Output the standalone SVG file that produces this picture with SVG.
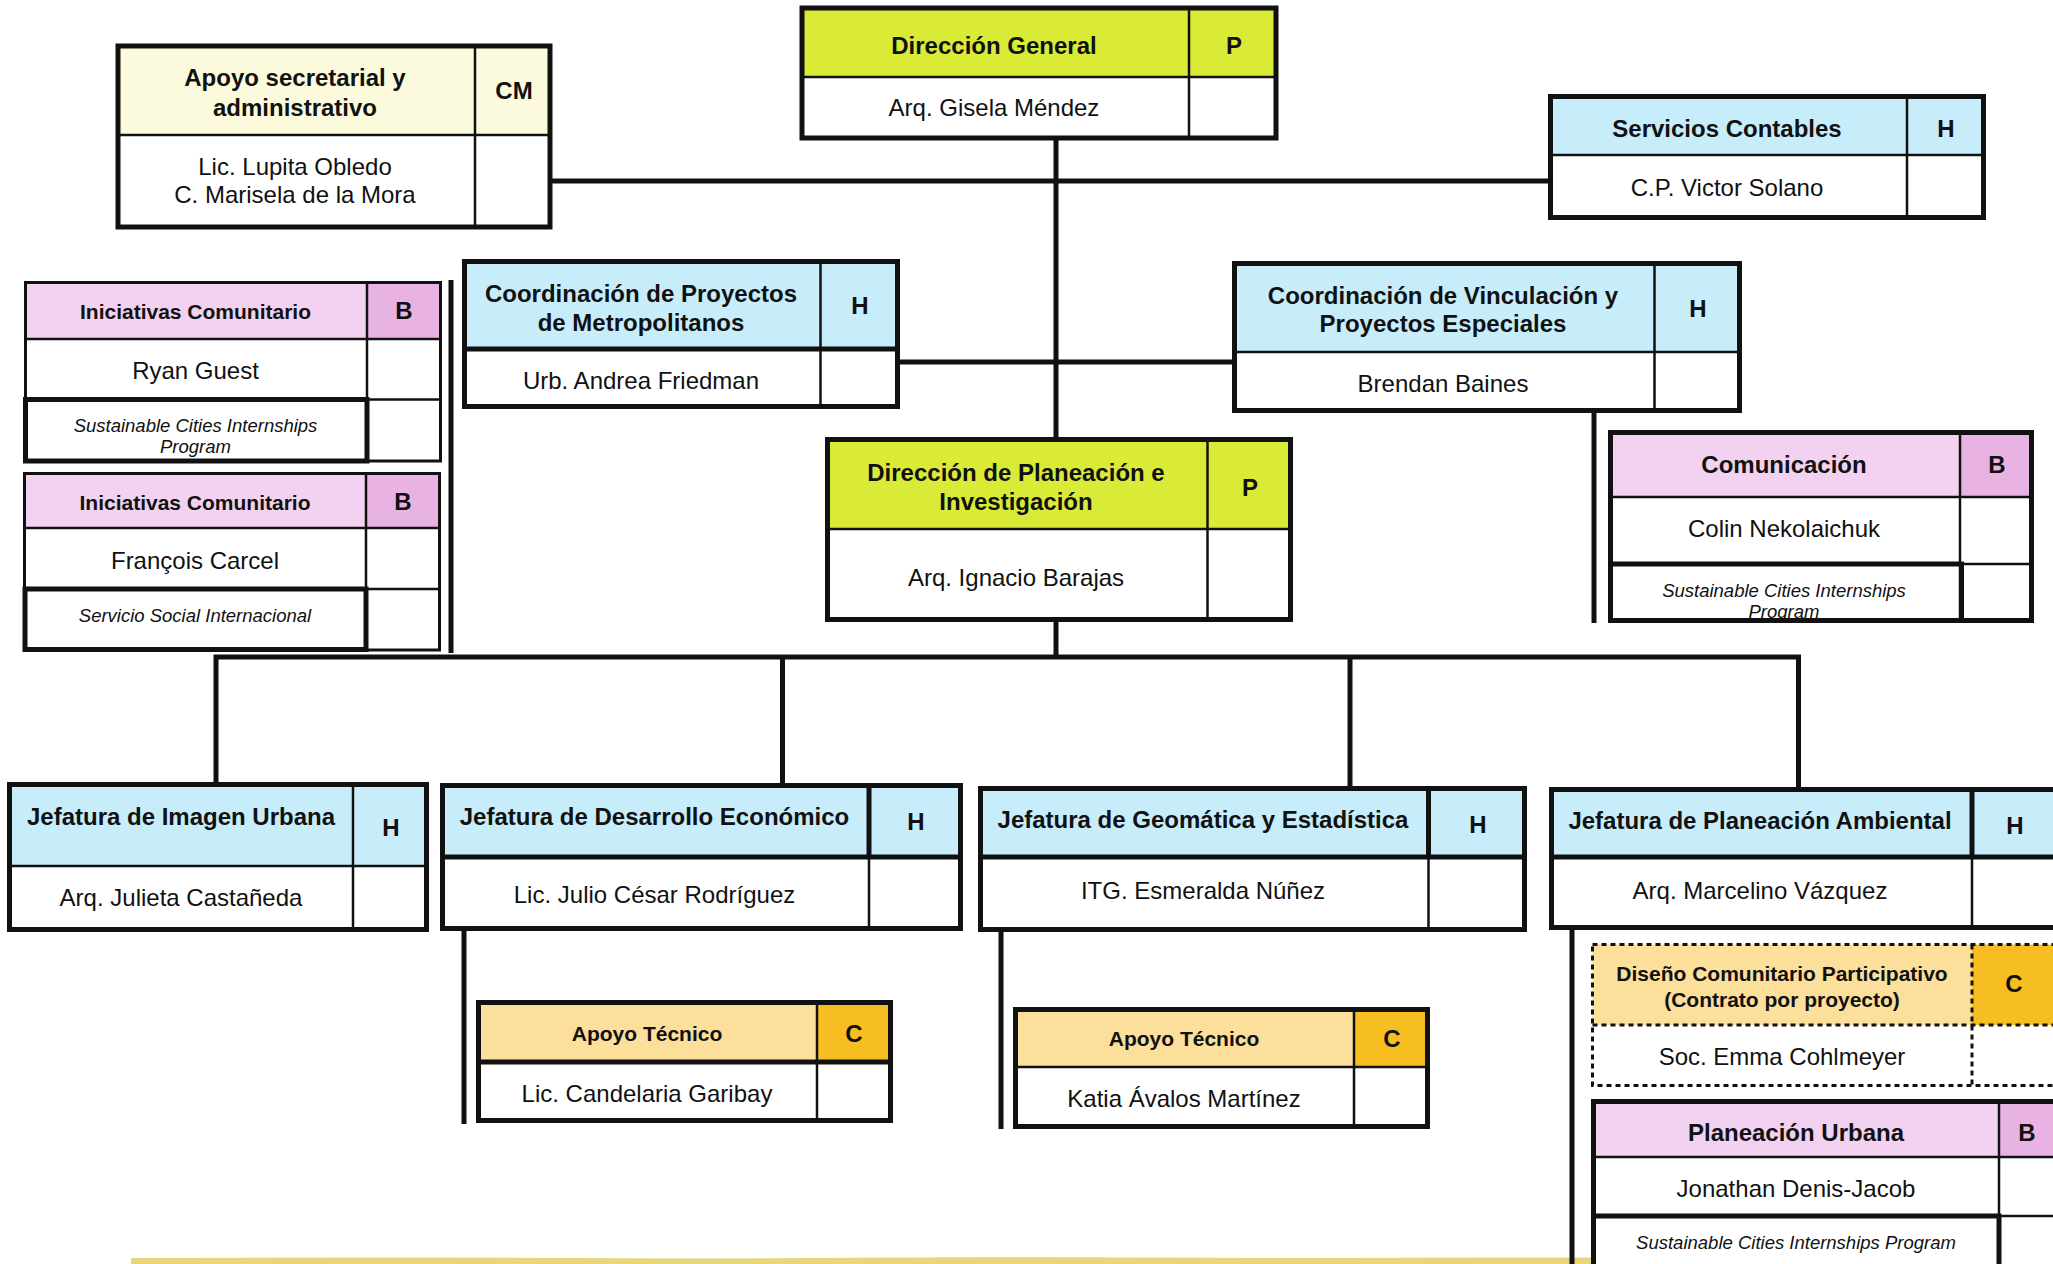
<svg xmlns="http://www.w3.org/2000/svg" width="2053" height="1264" viewBox="0 0 2053 1264">
<style>
.ob{fill:none;stroke:#111;stroke-width:5}
.obt{fill:none;stroke:#111;stroke-width:3}
.in{stroke:#111;stroke-width:2.5;fill:none}
.ink{stroke:#111;stroke-width:5;fill:none}
.dash{fill:none;stroke:#111;stroke-width:3;stroke-dasharray:5 4}
.cn{stroke:#111;stroke-width:5;fill:none}
.hb{font-family:"Liberation Sans",Arial,Helvetica,sans-serif;font-weight:bold;font-size:24px;text-anchor:middle;fill:#111}
.sb{font-family:"Liberation Sans",Arial,Helvetica,sans-serif;font-weight:bold;font-size:21px;text-anchor:middle;fill:#111}
.nm{font-family:"Liberation Sans",Arial,Helvetica,sans-serif;font-size:24px;text-anchor:middle;fill:#111}
.it{font-family:"Liberation Sans",Arial,Helvetica,sans-serif;font-style:italic;font-size:18.5px;text-anchor:middle;fill:#111}
.green{fill:#D9EB36}
.blue{fill:#C7EDFB}
.pink{fill:#F2D2F0}
.pinkd{fill:#E8B3E3}
.ora{fill:#FBDF9B}
.orad{fill:#F6BE22}
.cream{fill:#FCFADC}
.white{fill:#fff}
</style>
<rect x="0" y="0" width="2053" height="1264" fill="#fff"/>
<path d="M131 1258 L400 1257.5 L700 1258.5 L1000 1257 L1300 1258 L1595 1257.5 L1595 1264 L131 1264 Z" fill="#E8D67C"/>

<g id="connectors">
<line class="cn" x1="1056" y1="140" x2="1056" y2="438"/>
<line class="cn" x1="552" y1="181" x2="1549" y2="181"/>
<line class="cn" x1="899" y1="362" x2="1233" y2="362"/>
<line class="cn" x1="451" y1="280" x2="451" y2="653"/>
<line class="cn" x1="1594" y1="412" x2="1594" y2="623"/>
<line class="cn" x1="1056" y1="621" x2="1056" y2="657"/>
<polyline class="cn" points="216,783 216,657 1798.5,657 1798.5,788"/>
<line class="cn" x1="782.5" y1="657" x2="782.5" y2="784"/>
<line class="cn" x1="1350" y1="657" x2="1350" y2="787"/>
<line class="cn" x1="464" y1="928" x2="464" y2="1124"/>
<line class="cn" x1="1001" y1="931" x2="1001" y2="1129"/>
<line class="cn" x1="1572" y1="925" x2="1572" y2="1264"/>
</g>

<g id="direccion-general">
<rect class="green" x="802" y="8" width="474" height="69"/>
<rect class="white" x="802" y="77" width="474" height="61"/>
<line class="in" x1="802" y1="77" x2="1276" y2="77"/>
<line class="in" x1="1189" y1="8" x2="1189" y2="138"/>
<rect class="ob" x="802" y="8" width="474" height="130"/>
<text class="hb" x="994" y="53.5">Dirección General</text>
<text class="hb" x="1234" y="53.5">P</text>
<text class="nm" x="994" y="115.5">Arq. Gisela Méndez</text>
</g>

<g id="apoyo-secretarial">
<rect class="cream" x="118" y="46" width="432" height="89"/>
<rect class="white" x="118" y="135" width="432" height="92"/>
<line class="in" x1="118" y1="135" x2="550" y2="135"/>
<line class="in" x1="475" y1="46" x2="475" y2="227"/>
<rect class="ob" x="118" y="46" width="432" height="181"/>
<text class="hb" x="295" y="85.5">Apoyo secretarial y</text>
<text class="hb" x="295" y="115.5">administrativo</text>
<text class="hb" x="514" y="98.5">CM</text>
<text class="nm" x="295" y="174.5">Lic. Lupita Obledo</text>
<text class="nm" x="295" y="202.5">C. Marisela de la Mora</text>
</g>

<g id="servicios-contables">
<rect class="blue" x="1550.5" y="96.5" width="433" height="58.5"/>
<rect class="white" x="1550.5" y="155" width="433" height="62.5"/>
<line class="in" x1="1550.5" y1="155" x2="1983.5" y2="155"/>
<line class="in" x1="1907" y1="96.5" x2="1907" y2="217.5"/>
<rect class="ob" x="1550.5" y="96.5" width="433" height="121"/>
<text class="hb" x="1727" y="136.5">Servicios Contables</text>
<text class="hb" x="1946" y="136.5">H</text>
<text class="nm" x="1727" y="195.5">C.P. Victor Solano</text>
</g>

<g id="coord-proyectos">
<rect class="blue" x="464.5" y="261.5" width="433" height="87.5"/>
<rect class="white" x="464.5" y="349" width="433" height="57.5"/>
<line class="ink" x1="464.5" y1="349" x2="897.5" y2="349"/>
<line class="in" x1="820.5" y1="261.5" x2="820.5" y2="406.5"/>
<rect class="ob" x="464.5" y="261.5" width="433" height="145"/>
<text class="hb" x="641" y="301.5">Coordinación de Proyectos</text>
<text class="hb" x="641" y="330.5">de Metropolitanos</text>
<text class="hb" x="860" y="313.5">H</text>
<text class="nm" x="641" y="388.5">Urb. Andrea Friedman</text>
</g>

<g id="coord-vinculacion">
<rect class="blue" x="1234.5" y="263.5" width="505" height="88.5"/>
<rect class="white" x="1234.5" y="352" width="505" height="58.5"/>
<line class="in" x1="1234.5" y1="352" x2="1739.5" y2="352"/>
<line class="in" x1="1654.5" y1="263.5" x2="1654.5" y2="410.5"/>
<rect class="ob" x="1234.5" y="263.5" width="505" height="147"/>
<text class="hb" x="1443" y="303.5">Coordinación de Vinculación y</text>
<text class="hb" x="1443" y="331.5">Proyectos Especiales</text>
<text class="hb" x="1698" y="316.5">H</text>
<text class="nm" x="1443" y="391.5">Brendan Baines</text>
</g>

<g id="direccion-planeacion">
<rect class="green" x="827.5" y="439.5" width="463" height="89.5"/>
<rect class="white" x="827.5" y="529" width="463" height="90.5"/>
<line class="in" x1="827.5" y1="529" x2="1290.5" y2="529"/>
<line class="in" x1="1207.5" y1="439.5" x2="1207.5" y2="619.5"/>
<rect class="ob" x="827.5" y="439.5" width="463" height="180"/>
<text class="hb" x="1016" y="480.5">Dirección de Planeación e</text>
<text class="hb" x="1016" y="509.5">Investigación</text>
<text class="hb" x="1250" y="495.5">P</text>
<text class="nm" x="1016" y="585.5">Arq. Ignacio Barajas</text>
</g>

<g id="comunicacion">
<rect class="pink" x="1610.5" y="432.5" width="349.5" height="64.5"/>
<rect class="pinkd" x="1960" y="432.5" width="71.5" height="64.5"/>
<rect class="white" x="1610.5" y="497" width="421" height="123.5"/>
<line class="in" x1="1610.5" y1="497" x2="2031.5" y2="497"/>
<line class="in" x1="1960" y1="432.5" x2="1960" y2="620.5"/>
<line class="in" x1="1960" y1="564" x2="2031.5" y2="564"/>
<rect class="ob" x="1610.5" y="432.5" width="421" height="188"/>
<rect class="ob" x="1610.5" y="564" width="351" height="56.5"/>
<text class="hb" x="1784" y="472.5">Comunicación</text>
<text class="hb" x="1997" y="472.5">B</text>
<text class="nm" x="1784" y="536.5">Colin Nekolaichuk</text>
<text class="it" x="1784" y="596.5">Sustainable Cities Internships</text>
<text class="it" x="1784" y="617.5">Program</text>
</g>

<g id="iniciativas-1">
<rect class="pink" x="25.5" y="282.5" width="341.5" height="56.5"/>
<rect class="pinkd" x="367" y="282.5" width="73.5" height="56.5"/>
<rect class="white" x="25.5" y="339" width="415" height="122"/>
<line class="in" x1="25.5" y1="339" x2="440.5" y2="339"/>
<line class="in" x1="367" y1="282.5" x2="367" y2="461"/>
<line class="in" x1="367" y1="399.5" x2="440.5" y2="399.5"/>
<rect class="obt" x="25.5" y="282.5" width="415" height="178.5"/>
<rect class="ob" x="25.5" y="399.5" width="341.5" height="61.5"/>
<text class="sb" x="195.5" y="318.5">Iniciativas Comunitario</text>
<text class="hb" x="404" y="319">B</text>
<text class="nm" x="195.5" y="378.5">Ryan Guest</text>
<text class="it" x="195.5" y="431.5">Sustainable Cities Internships</text>
<text class="it" x="195.5" y="452.5">Program</text>
</g>

<g id="iniciativas-2">
<rect class="pink" x="24.5" y="473.5" width="341.5" height="54.5"/>
<rect class="pinkd" x="366" y="473.5" width="73.5" height="54.5"/>
<rect class="white" x="24.5" y="528" width="415" height="122"/>
<line class="in" x1="24.5" y1="528" x2="439.5" y2="528"/>
<line class="in" x1="366" y1="473.5" x2="366" y2="650"/>
<line class="in" x1="366" y1="589" x2="439.5" y2="589"/>
<rect class="obt" x="24.5" y="473.5" width="415" height="176.5"/>
<rect class="ob" x="25" y="589" width="341" height="60.5"/>
<text class="sb" x="195" y="509.5">Iniciativas Comunitario</text>
<text class="hb" x="403" y="510">B</text>
<text class="nm" x="195" y="568.5">François Carcel</text>
<text class="it" x="195" y="621.5">Servicio Social Internacional</text>
</g>

<g id="jefatura-imagen">
<rect class="blue" x="9.5" y="784.5" width="417" height="81.5"/>
<rect class="white" x="9.5" y="866" width="417" height="63.5"/>
<line class="in" x1="9.5" y1="866" x2="426.5" y2="866"/>
<line class="in" x1="353" y1="784.5" x2="353" y2="929.5"/>
<rect class="ob" x="9.5" y="784.5" width="417" height="145"/>
<text class="hb" x="181" y="824.5">Jefatura de Imagen Urbana</text>
<text class="hb" x="391" y="835.5">H</text>
<text class="nm" x="181" y="905.5">Arq. Julieta Castañeda</text>
</g>

<g id="jefatura-desarrollo">
<rect class="blue" x="442.5" y="785.5" width="518" height="71.5"/>
<rect class="white" x="442.5" y="857" width="518" height="71.5"/>
<line class="ink" x1="442.5" y1="857" x2="960.5" y2="857"/>
<line class="ink" x1="869" y1="785.5" x2="869" y2="857"/>
<line class="in" x1="869" y1="857" x2="869" y2="928.5"/>
<rect class="ob" x="442.5" y="785.5" width="518" height="143"/>
<text class="hb" x="654.5" y="824.5">Jefatura de Desarrollo Económico</text>
<text class="hb" x="916" y="829.5">H</text>
<text class="nm" x="654.5" y="902.5">Lic. Julio César Rodríguez</text>
</g>

<g id="jefatura-geomatica">
<rect class="blue" x="980.5" y="788.5" width="544" height="68.5"/>
<rect class="white" x="980.5" y="857" width="544" height="72.5"/>
<line class="ink" x1="980.5" y1="857" x2="1524.5" y2="857"/>
<line class="ink" x1="1428.5" y1="788.5" x2="1428.5" y2="857"/>
<line class="in" x1="1428.5" y1="857" x2="1428.5" y2="929.5"/>
<rect class="ob" x="980.5" y="788.5" width="544" height="141"/>
<text class="hb" x="1203" y="827.5">Jefatura de Geomática y Estadística</text>
<text class="hb" x="1478" y="832.5">H</text>
<text class="nm" x="1203" y="898.5">ITG. Esmeralda Núñez</text>
</g>

<g id="jefatura-ambiental">
<rect class="blue" x="1551.5" y="789.5" width="506" height="67.5"/>
<rect class="white" x="1551.5" y="857" width="506" height="70.5"/>
<line class="ink" x1="1551.5" y1="857" x2="2057.5" y2="857"/>
<line class="ink" x1="1972" y1="789.5" x2="1972" y2="857"/>
<line class="in" x1="1972" y1="857" x2="1972" y2="927.5"/>
<rect class="ob" x="1551.5" y="789.5" width="506" height="138"/>
<text class="hb" x="1760" y="828.5">Jefatura de Planeación Ambiental</text>
<text class="hb" x="2015" y="833.5">H</text>
<text class="nm" x="1760" y="898.5">Arq. Marcelino Vázquez</text>
</g>

<g id="apoyo-tecnico-1">
<rect class="ora" x="478.5" y="1002.5" width="338.5" height="59.5"/>
<rect class="orad" x="817" y="1002.5" width="73.5" height="59.5"/>
<rect class="white" x="478.5" y="1062" width="412" height="58.5"/>
<line class="ink" x1="478.5" y1="1062" x2="890.5" y2="1062"/>
<line class="in" x1="817" y1="1002.5" x2="817" y2="1120.5"/>
<rect class="ob" x="478.5" y="1002.5" width="412" height="118"/>
<text class="sb" x="647" y="1040.5">Apoyo Técnico</text>
<text class="hb" x="854" y="1041.5">C</text>
<text class="nm" x="647" y="1101.5">Lic. Candelaria Garibay</text>
</g>

<g id="apoyo-tecnico-2">
<rect class="ora" x="1015.5" y="1009.5" width="338.5" height="57.5"/>
<rect class="orad" x="1354" y="1009.5" width="73.5" height="57.5"/>
<rect class="white" x="1015.5" y="1067" width="412" height="59.5"/>
<line class="in" x1="1015.5" y1="1067" x2="1427.5" y2="1067"/>
<line class="in" x1="1354" y1="1009.5" x2="1354" y2="1126.5"/>
<rect class="ob" x="1015.5" y="1009.5" width="412" height="117"/>
<text class="sb" x="1184" y="1045.5">Apoyo Técnico</text>
<text class="hb" x="1392" y="1046.5">C</text>
<text class="nm" x="1184" y="1106.5">Katia Ávalos Martínez</text>
</g>

<g id="diseno-comunitario">
<rect class="ora" x="1592.5" y="944.5" width="379.5" height="80.5"/>
<rect class="orad" x="1972" y="944.5" width="90" height="80.5"/>
<rect class="white" x="1592.5" y="1025" width="470" height="60.5"/>
<line class="dash" x1="1592.5" y1="1025" x2="2062" y2="1025"/>
<line class="dash" x1="1972" y1="944.5" x2="1972" y2="1085.5"/>
<rect class="dash" x="1592.5" y="944.5" width="470" height="141"/>
<text class="sb" x="1782" y="980.5">Diseño Comunitario Participativo</text>
<text class="sb" x="1782" y="1006.5">(Contrato por proyecto)</text>
<text class="hb" x="2014" y="991.5">C</text>
<text class="nm" x="1782" y="1064.5">Soc. Emma Cohlmeyer</text>
</g>

<g id="planeacion-urbana">
<rect class="pink" x="1593.5" y="1101.5" width="405.5" height="55.5"/>
<rect class="pinkd" x="1999" y="1101.5" width="60" height="55.5"/>
<rect class="white" x="1593.5" y="1157" width="465" height="120"/>
<line class="in" x1="1593.5" y1="1157" x2="2058" y2="1157"/>
<line class="in" x1="1999" y1="1101.5" x2="1999" y2="1277"/>
<line class="in" x1="1999" y1="1216" x2="2058" y2="1216"/>
<rect class="ob" x="1593.5" y="1101.5" width="465" height="175"/>
<rect class="ob" x="1593.5" y="1216" width="405.5" height="61"/>
<text class="hb" x="1796" y="1140.5">Planeación Urbana</text>
<text class="hb" x="2027" y="1140.5">B</text>
<text class="nm" x="1796" y="1196.5">Jonathan Denis-Jacob</text>
<text class="it" x="1796" y="1248.5">Sustainable Cities Internships Program</text>
</g>
</svg>
